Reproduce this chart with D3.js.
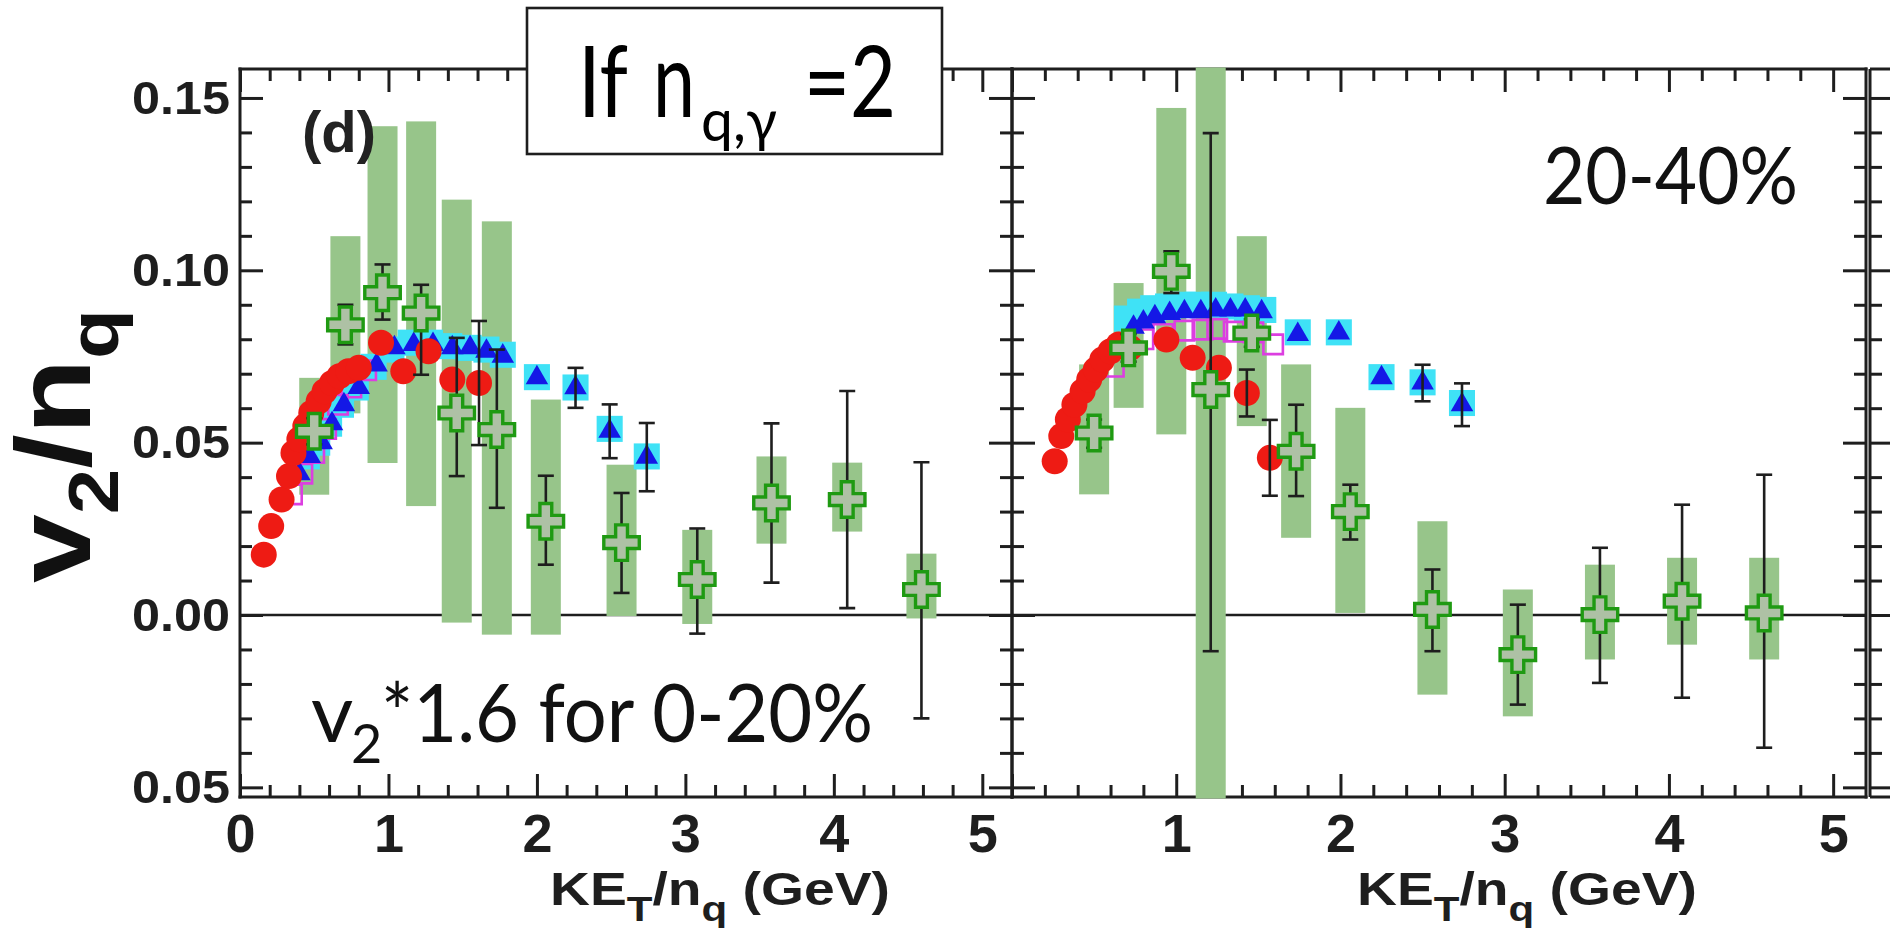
<!DOCTYPE html>
<html>
<head>
<meta charset="utf-8">
<script src="https://cdn.jsdelivr.net/npm/d3@7"></script>
<style>
  html, body { margin: 0; padding: 0; background: #fff; overflow: hidden; }
  svg { display: block; }
</style>
</head>
<body>
<script>
// ---------------- axis ticks ----------------
const X_TICKS = [0, 1, 2, 3, 4, 5];
const X_TICK_LABELS = ["0", "1", "2", "3", "4", "5"];
const Y_TICKS = [-0.05, 0, 0.05, 0.10, 0.15];
const Y_TICK_LABELS = ["0.05", "0.00", "0.05", "0.10", "0.15"];

// ---------------- 0-20% centrality (v2 scaled by 1.6) ----------------
// direct photons: value, statistical error bounds, systematic box bounds
const gammaKE_0_20    = [0.50, 0.71, 0.96, 1.22, 1.46, 1.73, 2.06, 2.57, 3.08, 3.58, 4.09, 4.59];
const gammaV2_0_20    = [0.0533, 0.0842, 0.0935, 0.0876, 0.0586, 0.0538, 0.0272, 0.0210, 0.0103, 0.0325, 0.0335, 0.0074];
const gammaStatLo_0_20 = [0.0495, 0.0785, 0.0857, 0.0697, 0.0403, 0.0311, 0.0146, 0.0064, -0.0054, 0.0094, 0.0020, -0.0300];
const gammaStatHi_0_20 = [0.0571, 0.0900, 0.1017, 0.0958, 0.0804, 0.0770, 0.0404, 0.0354, 0.0251, 0.0556, 0.0650, 0.0443];
const gammaSysLo_0_20 = [0.0349, 0.0585, 0.0441, 0.0316, -0.0022, -0.0057, -0.0057, -0.0003, -0.0026, 0.0207, 0.0242, -0.0010];
const gammaSysHi_0_20 = [0.0688, 0.1099, 0.1418, 0.1432, 0.1205, 0.1142, 0.0625, 0.0436, 0.0247, 0.0460, 0.0442, 0.0178];

// pions (filled red circles), with error half-width
const pionKE_0_20  = [0.16, 0.21, 0.28, 0.33, 0.36, 0.40, 0.44, 0.48, 0.53, 0.57, 0.62, 0.67, 0.73, 0.80, 0.95, 1.10, 1.27, 1.43, 1.61];
const pionV2_0_20  = [0.0175, 0.0258, 0.0335, 0.0403, 0.0470, 0.0510, 0.0548, 0.0586, 0.0620, 0.0649, 0.0673, 0.0693, 0.0707, 0.0717, 0.0790, 0.0707, 0.0765, 0.0683, 0.0673];
const pionErr_0_20 = [0, 0, 0, 0, 0, 0, 0, 0, 0, 0, 0, 0, 0, 0, 0, 0, 0, 0, 0.018];

// protons (blue triangles), with error half-width
const protonKE_0_20  = [0.40, 0.47, 0.55, 0.62, 0.70, 0.80, 0.92, 1.04, 1.17, 1.30, 1.43, 1.55, 1.66, 1.77, 2.00, 2.26, 2.49, 2.74];
const protonV2_0_20  = [0.041, 0.046, 0.050, 0.0555, 0.061, 0.066, 0.0725, 0.0775, 0.0785, 0.0785, 0.0775, 0.0775, 0.0765, 0.0751, 0.0688, 0.0659, 0.0533, 0.0458];
const protonErr_0_20 = [0, 0, 0, 0, 0, 0, 0, 0, 0, 0, 0, 0, 0, 0, 0, 0.0058, 0.0078, 0.0099];

// anti-protons (cyan squares)
const pbarKE_0_20 = [0.45, 0.52, 0.60, 0.68, 0.78, 0.90, 1.02, 1.15, 1.28, 1.41, 1.54, 1.66, 1.77, 2.00, 2.26, 2.49, 2.74];
const pbarV2_0_20 = [0.046, 0.050, 0.0555, 0.061, 0.066, 0.072, 0.077, 0.079, 0.079, 0.078, 0.0775, 0.077, 0.0755, 0.069, 0.066, 0.054, 0.046];

// kaons (open magenta squares)
const kaonKE_0_20 = [0.35, 0.42, 0.50, 0.58, 0.66, 0.75, 0.85];
const kaonV2_0_20 = [0.035, 0.041, 0.047, 0.054, 0.061, 0.066, 0.071];

// ---------------- 20-40% centrality ----------------
const gammaKE_20_40    = [0.50, 0.71, 0.97, 1.21, 1.46, 1.73, 2.06, 2.56, 3.08, 3.58, 4.08, 4.58];
const gammaV2_20_40    = [0.0528, 0.0775, 0.0997, 0.0654, 0.0818, 0.0475, 0.0300, 0.0016, -0.0115, 0.0001, 0.0040, 0.0006];
const gammaStatLo_20_40 = [0.0485, 0.0735, 0.0934, -0.0105, 0.0778, 0.0345, 0.0219, -0.0105, -0.0260, -0.0197, -0.0240, -0.0385];
const gammaStatHi_20_40 = [0.0567, 0.0815, 0.1055, 0.1398, 0.0858, 0.0610, 0.0378, 0.0132, 0.0030, 0.0195, 0.0320, 0.0407];
const gammaSysLo_20_40 = [0.0350, 0.0601, 0.0524, -0.0546, 0.0548, 0.0224, 0.0006, -0.0231, -0.0294, -0.0129, -0.0086, -0.0129];
const gammaSysHi_20_40 = [0.0727, 0.0963, 0.1471, 0.1854, 0.1099, 0.0727, 0.0601, 0.0272, 0.0074, 0.0146, 0.0166, 0.0166];

const pionKE_20_40  = [0.26, 0.30, 0.34, 0.38, 0.43, 0.47, 0.51, 0.55, 0.60, 0.65, 0.72, 0.94, 1.10, 1.26, 1.43, 1.57];
const pionV2_20_40  = [0.0446, 0.0519, 0.0567, 0.0610, 0.0649, 0.0683, 0.0712, 0.0741, 0.0765, 0.0785, 0.0775, 0.0799, 0.0746, 0.0717, 0.0644, 0.0456];
const pionErr_20_40 = [0, 0, 0, 0, 0, 0, 0, 0, 0, 0, 0, 0, 0, 0, 0.0068, 0.011];

const protonKE_20_40  = [0.74, 0.80, 0.87, 0.96, 1.05, 1.15, 1.24, 1.33, 1.42, 1.52, 1.74, 1.99, 2.25, 2.50, 2.74];
const protonV2_20_40  = [0.0835, 0.0850, 0.0865, 0.0875, 0.0880, 0.0880, 0.0885, 0.0885, 0.0885, 0.0880, 0.0814, 0.0818, 0.0688, 0.0673, 0.0610];
const protonErr_20_40 = [0, 0, 0, 0, 0, 0, 0, 0, 0, 0, 0, 0, 0, 0.0053, 0.0062];

const pbarKE_20_40 = [0.70, 0.78, 0.86, 0.95, 1.04, 1.13, 1.23, 1.33, 1.43, 1.53, 1.74, 1.99, 2.25, 2.50, 2.74];
const pbarV2_20_40 = [0.086, 0.088, 0.089, 0.0895, 0.090, 0.090, 0.090, 0.0895, 0.089, 0.0885, 0.082, 0.082, 0.069, 0.0675, 0.0615];

const kaonKE_20_40 = [0.62, 0.70, 0.80, 0.92, 1.05, 1.16, 1.25, 1.35, 1.47, 1.59];
const kaonV2_20_40 = [0.072, 0.0775, 0.080, 0.0815, 0.0825, 0.0828, 0.083, 0.0822, 0.082, 0.0785];

// ---------------- layout & style ----------------
const W = 1890, H = 932;
const INK = "#1e1e1e";
const yTop = 69, yBot = 797;
const BOX_W = 30;
const CAP_W = 16;

const y = d3.scaleLinear().domain([-0.0528, 0.1584]).range([yBot, yTop]);
const xLeft = d3.scaleLinear().domain([0, 5.2]).range([240, 1012]);
const xRight = d3.scaleLinear().domain([0, 5.2]).range([1012, 1866]);
const xThird = d3.scaleLinear().domain([0, 5.2]).range([1870, 2724]);

const isMajor = (v, step) => Math.abs(v / step - Math.round(v / step)) < 1e-6;
const minorX = d3.range(1, 26).map(i => +(i * 0.2).toFixed(2)).filter(v => !isMajor(v, 1));
const minorY = d3.range(-5, 16).map(i => +(i * 0.01).toFixed(2)).filter(v => !isMajor(v, 0.05));

const zip = (ke, v2, extra) => ke.map((k, i) => Object.assign({ ke: k, v2: v2[i] }, extra ? extra(i) : {}));

const panels = [
  {
    x: xLeft,
    xLabels: X_TICKS,
    yLabels: true,
    gamma: zip(gammaKE_0_20, gammaV2_0_20, i => ({ lo: gammaStatLo_0_20[i], hi: gammaStatHi_0_20[i], sLo: gammaSysLo_0_20[i], sHi: gammaSysHi_0_20[i] })),
    pion: zip(pionKE_0_20, pionV2_0_20, i => ({ err: pionErr_0_20[i] })),
    proton: zip(protonKE_0_20, protonV2_0_20, i => ({ err: protonErr_0_20[i] })),
    pbar: zip(pbarKE_0_20, pbarV2_0_20),
    kaon: zip(kaonKE_0_20, kaonV2_0_20)
  },
  {
    x: xRight,
    xLabels: X_TICKS.slice(1),
    yLabels: false,
    gamma: zip(gammaKE_20_40, gammaV2_20_40, i => ({ lo: gammaStatLo_20_40[i], hi: gammaStatHi_20_40[i], sLo: gammaSysLo_20_40[i], sHi: gammaSysHi_20_40[i] })),
    pion: zip(pionKE_20_40, pionV2_20_40, i => ({ err: pionErr_20_40[i] })),
    proton: zip(protonKE_20_40, protonV2_20_40, i => ({ err: protonErr_20_40[i] })),
    pbar: zip(pbarKE_20_40, pbarV2_20_40),
    kaon: zip(kaonKE_20_40, kaonV2_20_40)
  }
];

const svg = d3.select("body").append("svg").attr("width", W).attr("height", H);
svg.append("rect").attr("width", W).attr("height", H).attr("fill", "#fff");

// tick marks only (no domain path, no labels)
function tickMarks(g, axis, tx, ty) {
  const a = g.append("g").attr("transform", `translate(${tx},${ty})`).call(axis);
  a.select(".domain").remove();
  a.selectAll("text").remove();
  a.selectAll("line").attr("stroke", INK).attr("stroke-width", 3);
}

function drawFrame(g, x) {
  const [x0, x1] = x.range();
  // ticks: bottom and top
  [[X_TICKS, 23], [minorX, 12]].forEach(([vals, len]) => {
    tickMarks(g, d3.axisBottom(x).tickValues(vals).tickSize(-len).tickFormat(""), 0, yBot);
    tickMarks(g, d3.axisTop(x).tickValues(vals).tickSize(-len).tickFormat(""), 0, yTop);
  });
  // ticks: left and right
  [[Y_TICKS, 23], [minorY, 12]].forEach(([vals, len]) => {
    tickMarks(g, d3.axisLeft(y).tickValues(vals).tickSize(-len).tickFormat(""), x0, 0);
    tickMarks(g, d3.axisRight(y).tickValues(vals).tickSize(-len).tickFormat(""), x1, 0);
  });
  // frame lines
  const line = (xa, ya, xb, yb) => g.append("line").attr("x1", xa).attr("y1", ya).attr("x2", xb).attr("y2", yb)
    .attr("stroke", INK).attr("stroke-width", 3).attr("stroke-linecap", "square");
  line(x0, yTop, x1, yTop);
  line(x0, yBot, x1, yBot);
  line(x0, yTop, x0, yBot);
  line(x1, yTop, x1, yBot);
}

function errorBar(g, xp, ylo, yhi) {
  g.append("line").attr("x1", xp).attr("x2", xp).attr("y1", ylo).attr("y2", yhi)
    .attr("stroke", INK).attr("stroke-width", 2.6);
  [ylo, yhi].forEach(yy => g.append("line").attr("x1", xp - CAP_W / 2).attr("x2", xp + CAP_W / 2)
    .attr("y1", yy).attr("y2", yy).attr("stroke", INK).attr("stroke-width", 2.6));
}

panels.forEach((p, idx) => {
  const g = svg.append("g");
  const x = p.x;
  const [x0, x1] = x.range();

  drawFrame(g, x);

  // zero line
  g.append("line").attr("x1", x0).attr("x2", x1).attr("y1", y(0)).attr("y2", y(0))
    .attr("stroke", INK).attr("stroke-width", 2.6);

  // clip to the plot frame (boxes may run over the frame lines)
  const clipId = "clip" + idx;
  svg.append("clipPath").attr("id", clipId).append("rect")
    .attr("x", x0 - 1.5).attr("y", yTop - 1.5).attr("width", x1 - x0 + 3).attr("height", yBot - yTop + 3);
  const plot = g.append("g").attr("clip-path", `url(#${clipId})`);

  // systematic boxes of the photons
  plot.selectAll("rect.sys").data(p.gamma).join("rect").attr("class", "sys")
    .attr("x", d => x(d.ke) - BOX_W / 2).attr("width", BOX_W)
    .attr("y", d => y(d.sHi)).attr("height", d => y(d.sLo) - y(d.sHi))
    .attr("fill", "#97c58a");

  // anti-protons: cyan squares
  plot.selectAll("path.pbar").data(p.pbar).join("path").attr("class", "pbar")
    .attr("d", d3.symbol(d3.symbolSquare, 680))
    .attr("transform", d => `translate(${x(d.ke)},${y(d.v2)})`)
    .attr("fill", "#3fe2f6");

  // kaons: open magenta squares
  plot.selectAll("path.kaon").data(p.kaon).join("path").attr("class", "kaon")
    .attr("d", d3.symbol(d3.symbolSquare, 380))
    .attr("transform", d => `translate(${x(d.ke)},${y(d.v2)})`)
    .attr("fill", "none").attr("stroke", "#dc3ee0").attr("stroke-width", 2.6);

  // protons: blue triangles
  plot.selectAll("path.proton").data(p.proton).join("path").attr("class", "proton")
    .attr("d", d3.symbol(d3.symbolTriangle, 220))
    .attr("transform", d => `translate(${x(d.ke)},${y(d.v2)})`)
    .attr("fill", "#1418e6");

  // pions: red circles
  plot.selectAll("circle.pion").data(p.pion).join("circle").attr("class", "pion")
    .attr("cx", d => x(d.ke)).attr("cy", d => y(d.v2)).attr("r", 13)
    .attr("fill", "#ee1b14");

  // hadron error bars
  p.proton.concat(p.pion).filter(d => d.err > 0)
    .forEach(d => errorBar(plot, x(d.ke), y(d.v2 - d.err), y(d.v2 + d.err)));

  // photon statistical error bars
  p.gamma.forEach(d => errorBar(plot, x(d.ke), y(d.lo), y(d.hi)));

  // photons: open crosses
  plot.selectAll("path.gamma").data(p.gamma).join("path").attr("class", "gamma")
    .attr("d", d3.symbol(d3.symbolCross, 700))
    .attr("transform", d => `translate(${x(d.ke)},${y(d.v2)})`)
    .attr("fill", "#aec1a5").attr("stroke", "#1f9a12").attr("stroke-width", 3.4);

  // x tick labels
  const xl = g.append("g").attr("transform", `translate(0,${yBot})`)
    .call(d3.axisBottom(x).tickValues(p.xLabels).tickSize(0).tickPadding(17)
      .tickFormat(d => X_TICK_LABELS[X_TICKS.indexOf(d)]));
  xl.select(".domain").remove();
  xl.selectAll("text").attr("font-family", "'Liberation Sans', Arial, sans-serif")
    .attr("font-weight", "bold").attr("font-size", 54).attr("fill", INK);

  // y tick labels
  if (p.yLabels) {
    const yl = g.append("g").attr("transform", `translate(${x0},0)`)
      .call(d3.axisLeft(y).tickValues(Y_TICKS).tickSize(0).tickPadding(10)
        .tickFormat(d => Y_TICK_LABELS[Y_TICKS.indexOf(d)]));
    yl.select(".domain").remove();
    yl.selectAll("text").attr("font-family", "'Liberation Sans', Arial, sans-serif")
      .attr("font-weight", "bold").attr("font-size", 47).attr("fill", INK)
      .attr("textLength", 98).attr("lengthAdjust", "spacingAndGlyphs");
  }

  // x axis title
  const xt = g.append("text").attr("x", idx === 0 ? 720 : 1527).attr("y", 905)
    .attr("text-anchor", "middle")
    .attr("font-family", "'Liberation Sans', Arial, sans-serif").attr("font-weight", "bold")
    .attr("font-size", 46).attr("fill", INK)
    .attr("textLength", 340).attr("lengthAdjust", "spacingAndGlyphs");
  xt.append("tspan").text("KE");
  xt.append("tspan").attr("font-size", 35).attr("dy", 16).text("T");
  xt.append("tspan").attr("dy", -16).text("/n");
  xt.append("tspan").attr("font-size", 35).attr("dy", 16).text("q");
  xt.append("tspan").attr("dy", -16).text(" (GeV)");
});

// neighbouring panel, cut by the page edge
{
  const g = svg.append("g");
  const [x0] = xThird.range();
  [[Y_TICKS, 20], [minorY, 12]].forEach(([vals, len]) => {
    tickMarks(g, d3.axisLeft(y).tickValues(vals).tickSize(-len).tickFormat(""), x0, 0);
  });
  [[x0, yTop, W, yTop], [x0, yBot, W, yBot], [x0, yTop, x0, yBot]].forEach(([a, b, c, d]) =>
    g.append("line").attr("x1", a).attr("y1", b).attr("x2", c).attr("y2", d)
      .attr("stroke", INK).attr("stroke-width", 3));
}

// y axis title
{
  const t = svg.append("text").attr("transform", "translate(90,446) rotate(-90)")
    .attr("text-anchor", "middle")
    .attr("font-family", "'Liberation Sans', Arial, sans-serif").attr("font-weight", "bold")
    .attr("font-size", 106).attr("fill", "#111")
    .attr("textLength", 274).attr("lengthAdjust", "spacingAndGlyphs");
  t.append("tspan").text("v");
  t.append("tspan").attr("font-size", 70).attr("dy", 28).text("2");
  t.append("tspan").attr("dy", -28).text("/n");
  t.append("tspan").attr("font-size", 70).attr("dy", 28).text("q");
}

// panel label
svg.append("text").attr("x", 302).attr("y", 152)
  .attr("font-family", "'Liberation Sans', Arial, sans-serif").attr("font-weight", "bold")
  .attr("font-size", 58).attr("fill", "#222").text("(d)");

// annotation box over the top axis
{
  svg.append("rect").attr("x", 527).attr("y", 8).attr("width", 415).attr("height", 146)
    .attr("fill", "#fff").attr("stroke", INK).attr("stroke-width", 2.6);
  const f = "Lato, 'Open Sans', sans-serif";
  svg.append("text").attr("x", 578).attr("y", 117).attr("font-family", f).attr("font-size", 98)
    .attr("textLength", 50).attr("lengthAdjust", "spacingAndGlyphs").text("If");
  svg.append("text").attr("x", 653).attr("y", 117).attr("font-family", f).attr("font-size", 104)
    .attr("textLength", 42).attr("lengthAdjust", "spacingAndGlyphs").text("n");
  svg.append("text").attr("x", 701).attr("y", 141).attr("font-family", f).attr("font-size", 58)
    .attr("textLength", 76).attr("lengthAdjust", "spacingAndGlyphs").text("q,γ");
  svg.append("text").attr("x", 804).attr("y", 117).attr("font-family", f).attr("font-size", 98)
    .attr("textLength", 92).attr("lengthAdjust", "spacingAndGlyphs").text("=2");
}

// centrality notes
{
  const f = "Lato, 'Open Sans', sans-serif";
  svg.append("text").attr("x", 311).attr("y", 742).attr("font-family", f).attr("font-size", 82)
    .attr("fill", "#111").text("v");
  svg.append("text").attr("x", 351).attr("y", 763).attr("font-family", f).attr("font-size", 54)
    .attr("fill", "#111").text("2");
  svg.append("text").attr("x", 381).attr("y", 742).attr("font-family", f).attr("font-size", 82)
    .attr("fill", "#111").attr("textLength", 492).attr("lengthAdjust", "spacingAndGlyphs")
    .text("*1.6 for 0-20%");
  svg.append("text").attr("x", 1543).attr("y", 204).attr("font-family", f).attr("font-size", 80)
    .attr("fill", "#111").attr("textLength", 255).attr("lengthAdjust", "spacingAndGlyphs")
    .text("20-40%");
}
</script>
</body>
</html>
